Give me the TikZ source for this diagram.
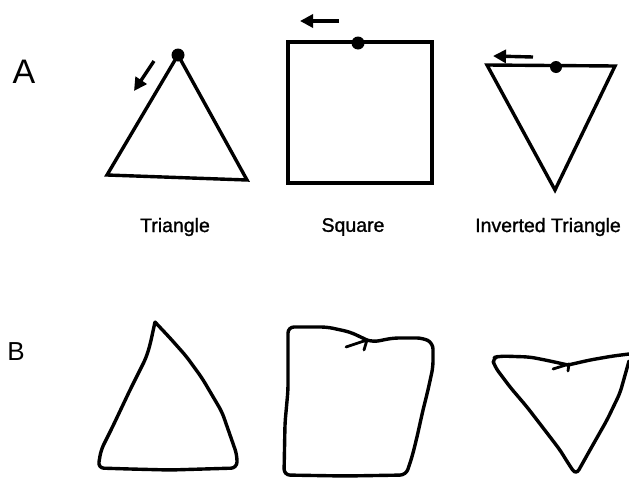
\documentclass[tikz,border=0pt]{standalone}
\usepackage{fontspec}
\setmainfont{Liberation Sans}
\newfontfamily\capfont[FakeBold=1.2]{Liberation Sans}
\usetikzlibrary{arrows.meta}
\tikzset{
  outline/.style={draw=black, line width=3.4pt, line join=miter},
  sketch/.style={draw=black, line width=3.4pt, line join=round, line cap=round, rounded corners=6pt},
  startdot/.style={fill=black},
  cue/.style={-{Triangle[length=13pt, width=13pt]}, line width=3.4pt, black},
  tick/.style={draw=black, line width=2.8pt, line cap=round, line join=round},
  caption/.style={font=\capfont\fontsize{19.5}{23}\selectfont, inner sep=0pt},
  rowlabel/.style={inner sep=0pt}
}

\begin{document}
\begin{tikzpicture}[x=1pt, y=-1pt]
  \useasboundingbox[fill=white] (0,0) rectangle (629,477);

  % row labels
  \node[rowlabel, font=\fontsize{34}{40}\selectfont] (rowA) at (24,72) {A};
  \node[rowlabel, font=\fontsize{26}{30}\selectfont] (rowB) at (16,352) {B};

  % row A: model figures
  \draw[outline] (178,55) -- (107,175) -- (247,180) -- cycle;
  \fill[startdot] (178,55) circle (6.5);
  \draw[cue] (154,61) -- (134,91);

  \draw[outline] (288,42) rectangle (432,183);
  \fill[startdot] (358,43) circle (6.5);
  \draw[cue] (339,21) -- (300,21);

  \draw[outline] (487,65) -- (615,66) -- (555,190) -- cycle;
  \fill[startdot] (556,67) circle (6);
  \draw[cue] (533,57) -- (493,56);

  \node[caption] (capTri) at (175,227) {Triangle};
  \node[caption] (capSq) at (353,227) {Square};
  \node[caption] (capInv) at (548,227) {Inverted Triangle};

  % row B: drawn copies
  \draw[sketch] (155,322) -- (150,345) -- (146,358) -- (130,390) -- (112,428)
    -- (101,450) -- (98,468) -- (130,469) -- (170,470) -- (237,468)
    -- (237,455) -- (222,412) -- (202,378) -- (186,356) -- (170,338) -- (155,322);

  \draw[sketch] (367,340) -- (373,342) -- (393,338) -- (423,338) -- (433,343)
    -- (433,367) -- (428,390) -- (423,410) -- (417,437) -- (412,457) -- (406,475)
    -- (345,476) -- (284,475) -- (285,423) -- (288,390) -- (288,327)
    -- (327,327) -- (350,332) -- (367,340);
  \draw[tick] (346,347) -- (367,340) -- (364,350);

  \draw[sketch] (568,365) -- (590,360) -- (613,356) -- (629,354)
    (629,361) -- (620,393) -- (607,420) -- (590,450) -- (576,475)
    -- (568,463) -- (560,450) -- (547,433) -- (527,407) -- (510,387)
    -- (495,367) -- (492,358) -- (500,356) -- (530,357) -- (550,361) -- (568,365);
  \draw[tick] (553,369) -- (569,364) -- (568,371);
\end{tikzpicture}
\end{document}
